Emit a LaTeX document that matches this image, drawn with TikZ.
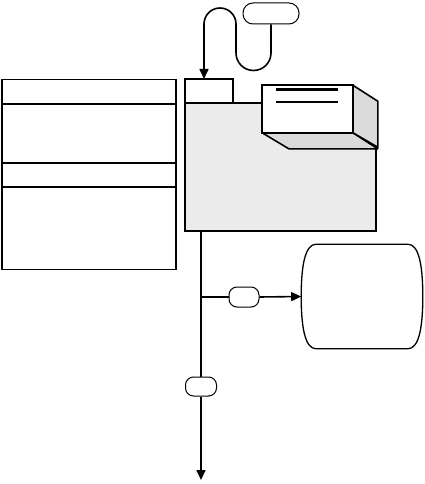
\documentclass[tikz,border=0pt]{standalone}
\usetikzlibrary{arrows.meta, calc}
\tikzset{
  pill/.style={draw, line width=1pt, rounded corners=8pt, fill=white, inner sep=0pt},
  plainbox/.style={draw, line width=1.6pt, inner sep=0pt},
}

\begin{document}
\begin{tikzpicture}[x=1pt, y=-1pt, line width=1.6pt, >={Triangle[length=10pt,width=9pt]}]
  % Bounding box fixe (taille originale)
  \path[use as bounding box] (0,0) rectangle (425,484);

  \colorlet{facecol}{black!8}
  \colorlet{sidecol}{black!14}

  % Left panel and its bands.
  \node[plainbox, minimum width=174pt, minimum height=190pt] (panel) at (89,174.5) {};
  \foreach \yy in {104,163,187}
    \draw (panel.west |- 0,\yy) -- (panel.east |- 0,\yy);

  % Folder: body and tab.
  \node[plainbox, fill=facecol, minimum width=191pt, minimum height=128pt] (body) at (280.5,167) {};
  \node[plainbox, fill=white, minimum width=48pt, minimum height=24pt] (tab) at (209,91) {};

  % Tray sitting in the folder.
  \node[minimum width=89pt, minimum height=46pt, inner sep=0pt] (tray) at (307.5,109) {};
  \draw[fill=sidecol, line join=round] (tray.north east) -- ++(25,16) -- ++(0,46)
    -- (tray.south east) -- cycle;
  \draw[fill=sidecol, line join=round] (tray.south west) -- (tray.south east)
    -- ++(25,16) -- ++(-89,0) -- cycle;
  \draw[fill=white] (tray.north west) rectangle (tray.south east);
  \draw[line width=2.6pt] (276,89.5) -- (338,89.5);
  \draw (276,102) -- (338,102);

  % Flag and its looped lead into the tab.
  \node[pill, rounded corners=10pt, minimum width=56pt, minimum height=21pt] (flag) at (271,13.5) {};
  \coordinate (drop) at (204,79);
  \draw[->] (flag.south) -- (271,53) arc (0:180:17.5) -- (236,24) arc (0:-180:16)
    -- (drop);

  % Drum.
  \node[minimum width=120pt, minimum height=103pt, inner sep=0pt] (drum) at (362,296.5) {};
  \draw[line width=1.3pt]
    ($(drum.north west)+(15,0)$) -- ($(drum.north east)+(-15,0)$)
    .. controls ($(drum.north east)+(-4,0)$) and ($(drum.east)+(0,-31.5)$) .. (drum.east)
    .. controls ($(drum.east)+(0,31.5)$) and ($(drum.south east)+(-4,0)$) .. ($(drum.south east)+(-15,0)$)
    -- ($(drum.south west)+(15,0)$)
    .. controls ($(drum.south west)+(4,0)$) and ($(drum.west)+(0,31.5)$) .. (drum.west)
    .. controls ($(drum.west)+(0,-31.5)$) and ($(drum.north west)+(4,0)$) .. ($(drum.north west)+(15,0)$)
    -- cycle;

  % Outlet line with its tags.
  \coordinate (tap) at (201,231);
  \coordinate (fork) at (201,297);
  \coordinate (sink) at (201,480);
  \node[pill, minimum width=30pt, minimum height=20pt] (tagA) at (244,297) {};
  \node[pill, minimum width=31pt, minimum height=19pt] (tagB) at (201,386.5) {};

  \draw (tap) -- (tagB.north);
  \draw[->] (tagB.south) -- (sink);
  \draw (fork) -- (tagA.west);
  \draw[->] (tagA.east) -- (drum.west);
\end{tikzpicture}
\end{document}
